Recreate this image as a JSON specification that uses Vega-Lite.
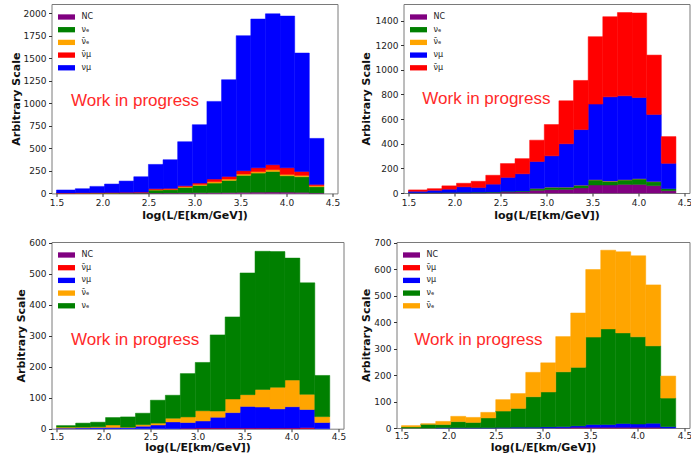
{
"$schema":"https://vega.github.io/schema/vega-lite/v6.json",
"background":"white",
"padding":{"left":9.5,"top":3,"right":0,"bottom":0},
"columns":2,
"align":"none",
"spacing":{"row":16,"column":13},
"datasets":{
"p1":[
{"lo":1.5,"hi":1.704,"t":"NC","n":1},{"lo":1.704,"hi":1.863,"t":"NC","n":1},{"lo":1.863,"hi":2.022,"t":"NC","n":2},{"lo":2.022,"hi":2.181,"t":"NC","n":2},{"lo":2.181,"hi":2.34,"t":"NC","n":3},{"lo":2.34,"hi":2.499,"t":"NC","n":3},{"lo":2.499,"hi":2.658,"t":"NC","n":4},{"lo":2.658,"hi":2.817,"t":"NC","n":5},{"lo":2.817,"hi":2.976,"t":"NC","n":6},{"lo":2.976,"hi":3.135,"t":"NC","n":7},{"lo":3.135,"hi":3.294,"t":"NC","n":8},{"lo":3.294,"hi":3.453,"t":"NC","n":10},{"lo":3.453,"hi":3.612,"t":"NC","n":12},{"lo":3.612,"hi":3.771,"t":"NC","n":14},{"lo":3.771,"hi":3.93,"t":"NC","n":15},{"lo":3.93,"hi":4.089,"t":"NC","n":14},{"lo":4.089,"hi":4.248,"t":"NC","n":12},{"lo":4.248,"hi":4.407,"t":"NC","n":5},
{"lo":1.5,"hi":1.704,"t":"\u03bd\u2091","n":1},{"lo":1.704,"hi":1.863,"t":"\u03bd\u2091","n":2},{"lo":1.863,"hi":2.022,"t":"\u03bd\u2091","n":3},{"lo":2.022,"hi":2.181,"t":"\u03bd\u2091","n":4},{"lo":2.181,"hi":2.34,"t":"\u03bd\u2091","n":5},{"lo":2.34,"hi":2.499,"t":"\u03bd\u2091","n":6},{"lo":2.499,"hi":2.658,"t":"\u03bd\u2091","n":33},{"lo":2.658,"hi":2.817,"t":"\u03bd\u2091","n":36},{"lo":2.817,"hi":2.976,"t":"\u03bd\u2091","n":61},{"lo":2.976,"hi":3.135,"t":"\u03bd\u2091","n":82},{"lo":3.135,"hi":3.294,"t":"\u03bd\u2091","n":107},{"lo":3.294,"hi":3.453,"t":"\u03bd\u2091","n":134},{"lo":3.453,"hi":3.612,"t":"\u03bd\u2091","n":188},{"lo":3.612,"hi":3.771,"t":"\u03bd\u2091","n":212},{"lo":3.771,"hi":3.93,"t":"\u03bd\u2091","n":229},{"lo":3.93,"hi":4.089,"t":"\u03bd\u2091","n":182},{"lo":4.089,"hi":4.248,"t":"\u03bd\u2091","n":173},{"lo":4.248,"hi":4.407,"t":"\u03bd\u2091","n":69},
{"lo":1.5,"hi":1.704,"t":"\u03bd\u0304\u2091","n":1},{"lo":1.704,"hi":1.863,"t":"\u03bd\u0304\u2091","n":1},{"lo":1.863,"hi":2.022,"t":"\u03bd\u0304\u2091","n":1},{"lo":2.022,"hi":2.181,"t":"\u03bd\u0304\u2091","n":1},{"lo":2.181,"hi":2.34,"t":"\u03bd\u0304\u2091","n":1},{"lo":2.34,"hi":2.499,"t":"\u03bd\u0304\u2091","n":1},{"lo":2.499,"hi":2.658,"t":"\u03bd\u0304\u2091","n":5},{"lo":2.658,"hi":2.817,"t":"\u03bd\u0304\u2091","n":4},{"lo":2.817,"hi":2.976,"t":"\u03bd\u0304\u2091","n":7},{"lo":2.976,"hi":3.135,"t":"\u03bd\u0304\u2091","n":11},{"lo":3.135,"hi":3.294,"t":"\u03bd\u0304\u2091","n":15},{"lo":3.294,"hi":3.453,"t":"\u03bd\u0304\u2091","n":15},{"lo":3.453,"hi":3.612,"t":"\u03bd\u0304\u2091","n":15},{"lo":3.612,"hi":3.771,"t":"\u03bd\u0304\u2091","n":15},{"lo":3.771,"hi":3.93,"t":"\u03bd\u0304\u2091","n":19},{"lo":3.93,"hi":4.089,"t":"\u03bd\u0304\u2091","n":15},{"lo":4.089,"hi":4.248,"t":"\u03bd\u0304\u2091","n":15},{"lo":4.248,"hi":4.407,"t":"\u03bd\u0304\u2091","n":11},
{"lo":1.5,"hi":1.704,"t":"\u03bd\u0304\u03bc","n":1},{"lo":1.704,"hi":1.863,"t":"\u03bd\u0304\u03bc","n":2},{"lo":1.863,"hi":2.022,"t":"\u03bd\u0304\u03bc","n":2},{"lo":2.022,"hi":2.181,"t":"\u03bd\u0304\u03bc","n":3},{"lo":2.181,"hi":2.34,"t":"\u03bd\u0304\u03bc","n":3},{"lo":2.34,"hi":2.499,"t":"\u03bd\u0304\u03bc","n":4},{"lo":2.499,"hi":2.658,"t":"\u03bd\u0304\u03bc","n":10},{"lo":2.658,"hi":2.817,"t":"\u03bd\u0304\u03bc","n":11},{"lo":2.817,"hi":2.976,"t":"\u03bd\u0304\u03bc","n":11},{"lo":2.976,"hi":3.135,"t":"\u03bd\u0304\u03bc","n":15},{"lo":3.135,"hi":3.294,"t":"\u03bd\u0304\u03bc","n":29},{"lo":3.294,"hi":3.453,"t":"\u03bd\u0304\u03bc","n":30},{"lo":3.453,"hi":3.612,"t":"\u03bd\u0304\u03bc","n":37},{"lo":3.612,"hi":3.771,"t":"\u03bd\u0304\u03bc","n":44},{"lo":3.771,"hi":3.93,"t":"\u03bd\u0304\u03bc","n":55},{"lo":3.93,"hi":4.089,"t":"\u03bd\u0304\u03bc","n":74},{"lo":4.089,"hi":4.248,"t":"\u03bd\u0304\u03bc","n":44},{"lo":4.248,"hi":4.407,"t":"\u03bd\u0304\u03bc","n":15},
{"lo":1.5,"hi":1.704,"t":"\u03bd\u03bc","n":34},{"lo":1.704,"hi":1.863,"t":"\u03bd\u03bc","n":46},{"lo":1.863,"hi":2.022,"t":"\u03bd\u03bc","n":70},{"lo":2.022,"hi":2.181,"t":"\u03bd\u03bc","n":94},{"lo":2.181,"hi":2.34,"t":"\u03bd\u03bc","n":125},{"lo":2.34,"hi":2.499,"t":"\u03bd\u03bc","n":171},{"lo":2.499,"hi":2.658,"t":"\u03bd\u03bc","n":270},{"lo":2.658,"hi":2.817,"t":"\u03bd\u03bc","n":318},{"lo":2.817,"hi":2.976,"t":"\u03bd\u03bc","n":489},{"lo":2.976,"hi":3.135,"t":"\u03bd\u03bc","n":648},{"lo":3.135,"hi":3.294,"t":"\u03bd\u03bc","n":863},{"lo":3.294,"hi":3.453,"t":"\u03bd\u03bc","n":1074},{"lo":3.453,"hi":3.612,"t":"\u03bd\u03bc","n":1500},{"lo":3.612,"hi":3.771,"t":"\u03bd\u03bc","n":1652},{"lo":3.771,"hi":3.93,"t":"\u03bd\u03bc","n":1677},{"lo":3.93,"hi":4.089,"t":"\u03bd\u03bc","n":1685},{"lo":4.089,"hi":4.248,"t":"\u03bd\u03bc","n":1315},{"lo":4.248,"hi":4.407,"t":"\u03bd\u03bc","n":511}
],
"p2":[
{"lo":1.5,"hi":1.704,"t":"NC","n":1},{"lo":1.704,"hi":1.863,"t":"NC","n":1},{"lo":1.863,"hi":2.022,"t":"NC","n":2},{"lo":2.022,"hi":2.181,"t":"NC","n":2},{"lo":2.181,"hi":2.34,"t":"NC","n":3},{"lo":2.34,"hi":2.499,"t":"NC","n":5},{"lo":2.499,"hi":2.658,"t":"NC","n":8},{"lo":2.658,"hi":2.817,"t":"NC","n":11},{"lo":2.817,"hi":2.976,"t":"NC","n":22},{"lo":2.976,"hi":3.135,"t":"NC","n":27},{"lo":3.135,"hi":3.294,"t":"NC","n":30},{"lo":3.294,"hi":3.453,"t":"NC","n":41},{"lo":3.453,"hi":3.612,"t":"NC","n":65},{"lo":3.612,"hi":3.771,"t":"NC","n":65},{"lo":3.771,"hi":3.93,"t":"NC","n":70},{"lo":3.93,"hi":4.089,"t":"NC","n":70},{"lo":4.089,"hi":4.248,"t":"NC","n":60},{"lo":4.248,"hi":4.407,"t":"NC","n":19},
{"lo":1.5,"hi":1.704,"t":"\u03bd\u2091","n":2},{"lo":1.704,"hi":1.863,"t":"\u03bd\u2091","n":3},{"lo":1.863,"hi":2.022,"t":"\u03bd\u2091","n":3},{"lo":2.022,"hi":2.181,"t":"\u03bd\u2091","n":4},{"lo":2.181,"hi":2.34,"t":"\u03bd\u2091","n":4},{"lo":2.34,"hi":2.499,"t":"\u03bd\u2091","n":3},{"lo":2.499,"hi":2.658,"t":"\u03bd\u2091","n":6},{"lo":2.658,"hi":2.817,"t":"\u03bd\u2091","n":5},{"lo":2.817,"hi":2.976,"t":"\u03bd\u2091","n":13},{"lo":2.976,"hi":3.135,"t":"\u03bd\u2091","n":19},{"lo":3.135,"hi":3.294,"t":"\u03bd\u2091","n":16},{"lo":3.294,"hi":3.453,"t":"\u03bd\u2091","n":21},{"lo":3.453,"hi":3.612,"t":"\u03bd\u2091","n":41},{"lo":3.612,"hi":3.771,"t":"\u03bd\u2091","n":30},{"lo":3.771,"hi":3.93,"t":"\u03bd\u2091","n":36},{"lo":3.93,"hi":4.089,"t":"\u03bd\u2091","n":44},{"lo":4.089,"hi":4.248,"t":"\u03bd\u2091","n":32},{"lo":4.248,"hi":4.407,"t":"\u03bd\u2091","n":16},
{"lo":2.817,"hi":2.976,"t":"\u03bd\u0304\u2091","n":1},{"lo":2.976,"hi":3.135,"t":"\u03bd\u0304\u2091","n":1},{"lo":3.135,"hi":3.294,"t":"\u03bd\u0304\u2091","n":1},{"lo":3.294,"hi":3.453,"t":"\u03bd\u0304\u2091","n":1},{"lo":3.453,"hi":3.612,"t":"\u03bd\u0304\u2091","n":2},{"lo":3.612,"hi":3.771,"t":"\u03bd\u0304\u2091","n":2},{"lo":3.771,"hi":3.93,"t":"\u03bd\u0304\u2091","n":2},{"lo":3.93,"hi":4.089,"t":"\u03bd\u0304\u2091","n":2},{"lo":4.089,"hi":4.248,"t":"\u03bd\u0304\u2091","n":1},
{"lo":1.5,"hi":1.704,"t":"\u03bd\u03bc","n":11},{"lo":1.704,"hi":1.863,"t":"\u03bd\u03bc","n":18},{"lo":1.863,"hi":2.022,"t":"\u03bd\u03bc","n":26},{"lo":2.022,"hi":2.181,"t":"\u03bd\u03bc","n":44},{"lo":2.181,"hi":2.34,"t":"\u03bd\u03bc","n":38},{"lo":2.34,"hi":2.499,"t":"\u03bd\u03bc","n":64},{"lo":2.499,"hi":2.658,"t":"\u03bd\u03bc","n":113},{"lo":2.658,"hi":2.817,"t":"\u03bd\u03bc","n":140},{"lo":2.817,"hi":2.976,"t":"\u03bd\u03bc","n":220},{"lo":2.976,"hi":3.135,"t":"\u03bd\u03bc","n":255},{"lo":3.135,"hi":3.294,"t":"\u03bd\u03bc","n":353},{"lo":3.294,"hi":3.453,"t":"\u03bd\u03bc","n":452},{"lo":3.453,"hi":3.612,"t":"\u03bd\u03bc","n":614},{"lo":3.612,"hi":3.771,"t":"\u03bd\u03bc","n":684},{"lo":3.771,"hi":3.93,"t":"\u03bd\u03bc","n":681},{"lo":3.93,"hi":4.089,"t":"\u03bd\u03bc","n":660},{"lo":4.089,"hi":4.248,"t":"\u03bd\u03bc","n":545},{"lo":4.248,"hi":4.407,"t":"\u03bd\u03bc","n":206},
{"lo":1.5,"hi":1.704,"t":"\u03bd\u0304\u03bc","n":11},{"lo":1.704,"hi":1.863,"t":"\u03bd\u0304\u03bc","n":13},{"lo":1.863,"hi":2.022,"t":"\u03bd\u0304\u03bc","n":27},{"lo":2.022,"hi":2.181,"t":"\u03bd\u0304\u03bc","n":29},{"lo":2.181,"hi":2.34,"t":"\u03bd\u0304\u03bc","n":50},{"lo":2.34,"hi":2.499,"t":"\u03bd\u0304\u03bc","n":72},{"lo":2.499,"hi":2.658,"t":"\u03bd\u0304\u03bc","n":112},{"lo":2.658,"hi":2.817,"t":"\u03bd\u0304\u03bc","n":123},{"lo":2.817,"hi":2.976,"t":"\u03bd\u0304\u03bc","n":173},{"lo":2.976,"hi":3.135,"t":"\u03bd\u0304\u03bc","n":254},{"lo":3.135,"hi":3.294,"t":"\u03bd\u0304\u03bc","n":349},{"lo":3.294,"hi":3.453,"t":"\u03bd\u0304\u03bc","n":399},{"lo":3.453,"hi":3.612,"t":"\u03bd\u0304\u03bc","n":548},{"lo":3.612,"hi":3.771,"t":"\u03bd\u0304\u03bc","n":651},{"lo":3.771,"hi":3.93,"t":"\u03bd\u0304\u03bc","n":676},{"lo":3.93,"hi":4.089,"t":"\u03bd\u0304\u03bc","n":686},{"lo":4.089,"hi":4.248,"t":"\u03bd\u0304\u03bc","n":482},{"lo":4.248,"hi":4.407,"t":"\u03bd\u0304\u03bc","n":217}
],
"p3":[
{"lo":2.976,"hi":3.135,"t":"NC","n":1},{"lo":3.135,"hi":3.294,"t":"NC","n":1},{"lo":3.294,"hi":3.453,"t":"NC","n":1},{"lo":3.453,"hi":3.612,"t":"NC","n":1},{"lo":3.612,"hi":3.771,"t":"NC","n":1},{"lo":3.771,"hi":3.93,"t":"NC","n":1},{"lo":3.93,"hi":4.089,"t":"NC","n":1},{"lo":4.089,"hi":4.248,"t":"NC","n":1},
{"lo":2.817,"hi":2.976,"t":"\u03bd\u0304\u03bc","n":1},{"lo":2.976,"hi":3.135,"t":"\u03bd\u0304\u03bc","n":1},{"lo":3.135,"hi":3.294,"t":"\u03bd\u0304\u03bc","n":1},{"lo":3.294,"hi":3.453,"t":"\u03bd\u0304\u03bc","n":1},{"lo":3.453,"hi":3.612,"t":"\u03bd\u0304\u03bc","n":1},{"lo":3.612,"hi":3.771,"t":"\u03bd\u0304\u03bc","n":1},{"lo":3.771,"hi":3.93,"t":"\u03bd\u0304\u03bc","n":1},{"lo":3.93,"hi":4.089,"t":"\u03bd\u0304\u03bc","n":1},{"lo":4.089,"hi":4.248,"t":"\u03bd\u0304\u03bc","n":2},
{"lo":1.5,"hi":1.704,"t":"\u03bd\u03bc","n":2},{"lo":1.704,"hi":1.863,"t":"\u03bd\u03bc","n":3},{"lo":1.863,"hi":2.022,"t":"\u03bd\u03bc","n":4},{"lo":2.022,"hi":2.181,"t":"\u03bd\u03bc","n":4},{"lo":2.181,"hi":2.34,"t":"\u03bd\u03bc","n":4},{"lo":2.34,"hi":2.499,"t":"\u03bd\u03bc","n":8},{"lo":2.499,"hi":2.658,"t":"\u03bd\u03bc","n":12},{"lo":2.658,"hi":2.817,"t":"\u03bd\u03bc","n":22},{"lo":2.817,"hi":2.976,"t":"\u03bd\u03bc","n":19},{"lo":2.976,"hi":3.135,"t":"\u03bd\u03bc","n":23},{"lo":3.135,"hi":3.294,"t":"\u03bd\u03bc","n":35},{"lo":3.294,"hi":3.453,"t":"\u03bd\u03bc","n":50},{"lo":3.453,"hi":3.612,"t":"\u03bd\u03bc","n":70},{"lo":3.612,"hi":3.771,"t":"\u03bd\u03bc","n":68},{"lo":3.771,"hi":3.93,"t":"\u03bd\u03bc","n":62},{"lo":3.93,"hi":4.089,"t":"\u03bd\u03bc","n":69},{"lo":4.089,"hi":4.248,"t":"\u03bd\u03bc","n":59},{"lo":4.248,"hi":4.407,"t":"\u03bd\u03bc","n":20},
{"lo":1.5,"hi":1.704,"t":"\u03bd\u0304\u2091","n":3},{"lo":1.704,"hi":1.863,"t":"\u03bd\u0304\u2091","n":2},{"lo":1.863,"hi":2.022,"t":"\u03bd\u0304\u2091","n":2},{"lo":2.022,"hi":2.181,"t":"\u03bd\u0304\u2091","n":8},{"lo":2.181,"hi":2.34,"t":"\u03bd\u0304\u2091","n":1},{"lo":2.34,"hi":2.499,"t":"\u03bd\u0304\u2091","n":5},{"lo":2.499,"hi":2.658,"t":"\u03bd\u0304\u2091","n":6},{"lo":2.658,"hi":2.817,"t":"\u03bd\u0304\u2091","n":12},{"lo":2.817,"hi":2.976,"t":"\u03bd\u0304\u2091","n":18},{"lo":2.976,"hi":3.135,"t":"\u03bd\u0304\u2091","n":33},{"lo":3.135,"hi":3.294,"t":"\u03bd\u0304\u2091","n":20},{"lo":3.294,"hi":3.453,"t":"\u03bd\u0304\u2091","n":44},{"lo":3.453,"hi":3.612,"t":"\u03bd\u0304\u2091","n":38},{"lo":3.612,"hi":3.771,"t":"\u03bd\u0304\u2091","n":57},{"lo":3.771,"hi":3.93,"t":"\u03bd\u0304\u2091","n":70},{"lo":3.93,"hi":4.089,"t":"\u03bd\u0304\u2091","n":86},{"lo":4.089,"hi":4.248,"t":"\u03bd\u0304\u2091","n":49},{"lo":4.248,"hi":4.407,"t":"\u03bd\u0304\u2091","n":19},
{"lo":1.5,"hi":1.704,"t":"\u03bd\u2091","n":5},{"lo":1.704,"hi":1.863,"t":"\u03bd\u2091","n":13},{"lo":1.863,"hi":2.022,"t":"\u03bd\u2091","n":15},{"lo":2.022,"hi":2.181,"t":"\u03bd\u2091","n":24},{"lo":2.181,"hi":2.34,"t":"\u03bd\u2091","n":33},{"lo":2.34,"hi":2.499,"t":"\u03bd\u2091","n":37},{"lo":2.499,"hi":2.658,"t":"\u03bd\u2091","n":74},{"lo":2.658,"hi":2.817,"t":"\u03bd\u2091","n":74},{"lo":2.817,"hi":2.976,"t":"\u03bd\u2091","n":140},{"lo":2.976,"hi":3.135,"t":"\u03bd\u2091","n":156},{"lo":3.135,"hi":3.294,"t":"\u03bd\u2091","n":246},{"lo":3.294,"hi":3.453,"t":"\u03bd\u2091","n":265},{"lo":3.453,"hi":3.612,"t":"\u03bd\u2091","n":393},{"lo":3.612,"hi":3.771,"t":"\u03bd\u2091","n":446},{"lo":3.771,"hi":3.93,"t":"\u03bd\u2091","n":438},{"lo":3.93,"hi":4.089,"t":"\u03bd\u2091","n":394},{"lo":4.089,"hi":4.248,"t":"\u03bd\u2091","n":360},{"lo":4.248,"hi":4.407,"t":"\u03bd\u2091","n":133}
],
"p4":[
{"lo":3.135,"hi":3.294,"t":"NC","n":1},{"lo":3.294,"hi":3.453,"t":"NC","n":1},{"lo":3.453,"hi":3.612,"t":"NC","n":1},{"lo":3.612,"hi":3.771,"t":"NC","n":1},{"lo":3.771,"hi":3.93,"t":"NC","n":1},{"lo":3.93,"hi":4.089,"t":"NC","n":1},{"lo":4.089,"hi":4.248,"t":"NC","n":1},
{"lo":3.294,"hi":3.453,"t":"\u03bd\u0304\u03bc","n":1},{"lo":3.453,"hi":3.612,"t":"\u03bd\u0304\u03bc","n":1},{"lo":3.612,"hi":3.771,"t":"\u03bd\u0304\u03bc","n":1},{"lo":3.771,"hi":3.93,"t":"\u03bd\u0304\u03bc","n":1},{"lo":3.93,"hi":4.089,"t":"\u03bd\u0304\u03bc","n":1},{"lo":4.089,"hi":4.248,"t":"\u03bd\u0304\u03bc","n":1},
{"lo":1.863,"hi":2.022,"t":"\u03bd\u03bc","n":1},{"lo":2.022,"hi":2.181,"t":"\u03bd\u03bc","n":1},{"lo":2.181,"hi":2.34,"t":"\u03bd\u03bc","n":1},{"lo":2.34,"hi":2.499,"t":"\u03bd\u03bc","n":1},{"lo":2.499,"hi":2.658,"t":"\u03bd\u03bc","n":2},{"lo":2.658,"hi":2.817,"t":"\u03bd\u03bc","n":3},{"lo":2.817,"hi":2.976,"t":"\u03bd\u03bc","n":3},{"lo":2.976,"hi":3.135,"t":"\u03bd\u03bc","n":4},{"lo":3.135,"hi":3.294,"t":"\u03bd\u03bc","n":4},{"lo":3.294,"hi":3.453,"t":"\u03bd\u03bc","n":6},{"lo":3.453,"hi":3.612,"t":"\u03bd\u03bc","n":11},{"lo":3.612,"hi":3.771,"t":"\u03bd\u03bc","n":11},{"lo":3.771,"hi":3.93,"t":"\u03bd\u03bc","n":15},{"lo":3.93,"hi":4.089,"t":"\u03bd\u03bc","n":13},{"lo":4.089,"hi":4.248,"t":"\u03bd\u03bc","n":16},{"lo":4.248,"hi":4.407,"t":"\u03bd\u03bc","n":5},
{"lo":1.5,"hi":1.704,"t":"\u03bd\u2091","n":4},{"lo":1.704,"hi":1.863,"t":"\u03bd\u2091","n":14},{"lo":1.863,"hi":2.022,"t":"\u03bd\u2091","n":12},{"lo":2.022,"hi":2.181,"t":"\u03bd\u2091","n":23},{"lo":2.181,"hi":2.34,"t":"\u03bd\u2091","n":20},{"lo":2.34,"hi":2.499,"t":"\u03bd\u2091","n":37},{"lo":2.499,"hi":2.658,"t":"\u03bd\u2091","n":62},{"lo":2.658,"hi":2.817,"t":"\u03bd\u2091","n":71},{"lo":2.817,"hi":2.976,"t":"\u03bd\u2091","n":115},{"lo":2.976,"hi":3.135,"t":"\u03bd\u2091","n":132},{"lo":3.135,"hi":3.294,"t":"\u03bd\u2091","n":207},{"lo":3.294,"hi":3.453,"t":"\u03bd\u2091","n":221},{"lo":3.453,"hi":3.612,"t":"\u03bd\u2091","n":330},{"lo":3.612,"hi":3.771,"t":"\u03bd\u2091","n":361},{"lo":3.771,"hi":3.93,"t":"\u03bd\u2091","n":342},{"lo":3.93,"hi":4.089,"t":"\u03bd\u2091","n":329},{"lo":4.089,"hi":4.248,"t":"\u03bd\u2091","n":292},{"lo":4.248,"hi":4.407,"t":"\u03bd\u2091","n":108},
{"lo":1.5,"hi":1.704,"t":"\u03bd\u0304\u2091","n":5},{"lo":1.704,"hi":1.863,"t":"\u03bd\u0304\u2091","n":2},{"lo":1.863,"hi":2.022,"t":"\u03bd\u0304\u2091","n":12},{"lo":2.022,"hi":2.181,"t":"\u03bd\u0304\u2091","n":20},{"lo":2.181,"hi":2.34,"t":"\u03bd\u0304\u2091","n":19},{"lo":2.34,"hi":2.499,"t":"\u03bd\u0304\u2091","n":21},{"lo":2.499,"hi":2.658,"t":"\u03bd\u0304\u2091","n":43},{"lo":2.658,"hi":2.817,"t":"\u03bd\u0304\u2091","n":56},{"lo":2.817,"hi":2.976,"t":"\u03bd\u0304\u2091","n":92},{"lo":2.976,"hi":3.135,"t":"\u03bd\u0304\u2091","n":110},{"lo":3.135,"hi":3.294,"t":"\u03bd\u0304\u2091","n":133},{"lo":3.294,"hi":3.453,"t":"\u03bd\u0304\u2091","n":205},{"lo":3.453,"hi":3.612,"t":"\u03bd\u0304\u2091","n":255},{"lo":3.612,"hi":3.771,"t":"\u03bd\u0304\u2091","n":297},{"lo":3.771,"hi":3.93,"t":"\u03bd\u0304\u2091","n":306},{"lo":3.93,"hi":4.089,"t":"\u03bd\u0304\u2091","n":306},{"lo":4.089,"hi":4.248,"t":"\u03bd\u0304\u2091","n":230},{"lo":4.248,"hi":4.407,"t":"\u03bd\u0304\u2091","n":83}
]
},
"concat":[
{"width":286,"height":189.4,
 "layer":[
 {"data":{"name":"p1"},
  "transform":[{"lookup":"t","from":{"data":{"values":[{"t":"NC","k":0},{"t":"\u03bd\u2091","k":1},{"t":"\u03bd\u0304\u2091","k":2},{"t":"\u03bd\u0304\u03bc","k":3},{"t":"\u03bd\u03bc","k":4}]},"key":"t","fields":["k"]}}],
  "mark":{"type":"bar","orient":"vertical","strokeWidth":0.5},
  "encoding":{
   "x":{"field":"lo","type":"quantitative","scale":{"domain":[1.5,4.5],"nice":false,"zero":false},"axis":{"title":"log(L/E[km/GeV])","values":[1.5,2,2.5,3,3.5,4,4.5],"format":".1f","labelOverlap":false}},
   "x2":{"field":"hi"},
   "y":{"field":"n","type":"quantitative","stack":"zero","scale":{"domain":[0,2104],"nice":false},"axis":{"title":"Arbitrary Scale","values":[0,250,500,750,1000,1250,1500,1750,2000],"format":"d","labelOverlap":false}},
   "order":{"field":"k","type":"quantitative","sort":"ascending"},
   "color":{"field":"t","type":"nominal","scale":{"domain":["NC","\u03bd\u2091","\u03bd\u0304\u2091","\u03bd\u0304\u03bc","\u03bd\u03bc"],"range":["#800080","#008000","#FFA500","#FF0000","#0000FF"]},"legend":{"title":null}},
   "stroke":{"field":"t","type":"nominal","scale":{"domain":["NC","\u03bd\u2091","\u03bd\u0304\u2091","\u03bd\u0304\u03bc","\u03bd\u03bc"],"range":["#800080","#008000","#FFA500","#FF0000","#0000FF"]},"legend":null}
  }},
 {"data":{"values":[{}]},"mark":{"type":"text","align":"left","baseline":"middle","font":"Liberation Sans","fontSize":17,"color":"#ff2a2a"},
  "encoding":{"x":{"datum":1.657,"type":"quantitative","axis":{"title":"log(L/E[km/GeV])","values":[1.5,2,2.5,3,3.5,4,4.5],"format":".1f","labelOverlap":false}},"y":{"datum":1030,"type":"quantitative","axis":{"title":"Arbitrary Scale","values":[0,250,500,750,1000,1250,1500,1750,2000],"format":"d","labelOverlap":false}},"text":{"value":"Work in progress"}}}
 ]},
{"width":286,"height":189,
 "layer":[
 {"data":{"name":"p2"},
  "transform":[{"lookup":"t","from":{"data":{"values":[{"t":"NC","k":0},{"t":"\u03bd\u2091","k":1},{"t":"\u03bd\u0304\u2091","k":2},{"t":"\u03bd\u03bc","k":3},{"t":"\u03bd\u0304\u03bc","k":4}]},"key":"t","fields":["k"]}}],
  "mark":{"type":"bar","orient":"vertical","strokeWidth":0.5},
  "encoding":{
   "x":{"field":"lo","type":"quantitative","scale":{"domain":[1.5,4.5],"nice":false,"zero":false},"axis":{"title":"log(L/E[km/GeV])","values":[1.5,2,2.5,3,3.5,4,4.5],"format":".1f","labelOverlap":false}},
   "x2":{"field":"hi"},
   "y":{"field":"n","type":"quantitative","stack":"zero","scale":{"domain":[0,1535],"nice":false},"axis":{"title":"Arbitrary Scale","values":[0,200,400,600,800,1000,1200,1400],"format":"d","titlePadding":3.5,"labelOverlap":false}},
   "order":{"field":"k","type":"quantitative","sort":"ascending"},
   "color":{"field":"t","type":"nominal","scale":{"domain":["NC","\u03bd\u2091","\u03bd\u0304\u2091","\u03bd\u03bc","\u03bd\u0304\u03bc"],"range":["#800080","#008000","#FFA500","#0000FF","#FF0000"]},"legend":{"title":null}},
   "stroke":{"field":"t","type":"nominal","scale":{"domain":["NC","\u03bd\u2091","\u03bd\u0304\u2091","\u03bd\u03bc","\u03bd\u0304\u03bc"],"range":["#800080","#008000","#FFA500","#0000FF","#FF0000"]},"legend":null}
  }},
 {"data":{"values":[{}]},"mark":{"type":"text","align":"left","baseline":"middle","font":"Liberation Sans","fontSize":17,"color":"#ff2a2a"},
  "encoding":{"x":{"datum":1.65,"type":"quantitative","axis":{"title":"log(L/E[km/GeV])","values":[1.5,2,2.5,3,3.5,4,4.5],"format":".1f","labelOverlap":false}},"y":{"datum":762,"type":"quantitative","axis":{"title":"Arbitrary Scale","values":[0,200,400,600,800,1000,1200,1400],"format":"d","titlePadding":3.5,"labelOverlap":false}},"text":{"value":"Work in progress"}}}
 ]},
{"width":292,"height":186.7,
 "layer":[
 {"data":{"name":"p3"},
  "transform":[{"lookup":"t","from":{"data":{"values":[{"t":"NC","k":0},{"t":"\u03bd\u0304\u03bc","k":1},{"t":"\u03bd\u03bc","k":2},{"t":"\u03bd\u0304\u2091","k":3},{"t":"\u03bd\u2091","k":4}]},"key":"t","fields":["k"]}}],
  "mark":{"type":"bar","orient":"vertical","strokeWidth":0.5},
  "encoding":{
   "x":{"field":"lo","type":"quantitative","scale":{"domain":[1.5,4.5],"nice":false,"zero":false},"axis":{"title":"log(L/E[km/GeV])","values":[1.5,2,2.5,3,3.5,4,4.5],"format":".1f","labelPadding":0.5,"titlePadding":0.5,"labelOverlap":false}},
   "x2":{"field":"hi"},
   "y":{"field":"n","type":"quantitative","stack":"zero","scale":{"domain":[0,603],"nice":false},"axis":{"title":"Arbitrary Scale","values":[0,100,200,300,400,500,600],"format":"d","labelOverlap":false}},
   "order":{"field":"k","type":"quantitative","sort":"ascending"},
   "color":{"field":"t","type":"nominal","scale":{"domain":["NC","\u03bd\u0304\u03bc","\u03bd\u03bc","\u03bd\u0304\u2091","\u03bd\u2091"],"range":["#800080","#FF0000","#0000FF","#FFA500","#008000"]},"legend":{"title":null}},
   "stroke":{"field":"t","type":"nominal","scale":{"domain":["NC","\u03bd\u0304\u03bc","\u03bd\u03bc","\u03bd\u0304\u2091","\u03bd\u2091"],"range":["#800080","#FF0000","#0000FF","#FFA500","#008000"]},"legend":null}
  }},
 {"data":{"values":[{}]},"mark":{"type":"text","align":"left","baseline":"middle","font":"Liberation Sans","fontSize":17,"color":"#ff2a2a"},
  "encoding":{"x":{"datum":1.654,"type":"quantitative","axis":{"title":"log(L/E[km/GeV])","values":[1.5,2,2.5,3,3.5,4,4.5],"format":".1f","labelPadding":0.5,"titlePadding":0.5,"labelOverlap":false}},"y":{"datum":285,"type":"quantitative","axis":{"title":"Arbitrary Scale","values":[0,100,200,300,400,500,600],"format":"d","labelOverlap":false}},"text":{"value":"Work in progress"}}}
 ]},
{"width":293,"height":186,
 "layer":[
 {"data":{"name":"p4"},
  "transform":[{"lookup":"t","from":{"data":{"values":[{"t":"NC","k":0},{"t":"\u03bd\u0304\u03bc","k":1},{"t":"\u03bd\u03bc","k":2},{"t":"\u03bd\u2091","k":3},{"t":"\u03bd\u0304\u2091","k":4}]},"key":"t","fields":["k"]}}],
  "mark":{"type":"bar","orient":"vertical","strokeWidth":0.5},
  "encoding":{
   "x":{"field":"lo","type":"quantitative","scale":{"domain":[1.5,4.5],"nice":false,"zero":false},"axis":{"title":"log(L/E[km/GeV])","values":[1.5,2,2.5,3,3.5,4,4.5],"format":".1f","labelPadding":0.5,"titlePadding":0.5,"labelOverlap":false}},
   "x2":{"field":"hi"},
   "y":{"field":"n","type":"quantitative","stack":"zero","scale":{"domain":[0,702],"nice":false},"axis":{"title":"Arbitrary Scale","values":[0,100,200,300,400,500,600,700],"format":"d","labelOverlap":false}},
   "order":{"field":"k","type":"quantitative","sort":"ascending"},
   "color":{"field":"t","type":"nominal","scale":{"domain":["NC","\u03bd\u0304\u03bc","\u03bd\u03bc","\u03bd\u2091","\u03bd\u0304\u2091"],"range":["#800080","#FF0000","#0000FF","#008000","#FFA500"]},"legend":{"title":null}},
   "stroke":{"field":"t","type":"nominal","scale":{"domain":["NC","\u03bd\u0304\u03bc","\u03bd\u03bc","\u03bd\u2091","\u03bd\u0304\u2091"],"range":["#800080","#FF0000","#0000FF","#008000","#FFA500"]},"legend":null}
  }},
 {"data":{"values":[{}]},"mark":{"type":"text","align":"left","baseline":"middle","font":"Liberation Sans","fontSize":17,"color":"#ff2a2a"},
  "encoding":{"x":{"datum":1.636,"type":"quantitative","axis":{"title":"log(L/E[km/GeV])","values":[1.5,2,2.5,3,3.5,4,4.5],"format":".1f","labelPadding":0.5,"titlePadding":0.5,"labelOverlap":false}},"y":{"datum":334,"type":"quantitative","axis":{"title":"Arbitrary Scale","values":[0,100,200,300,400,500,600,700],"format":"d","labelOverlap":false}},"text":{"value":"Work in progress"}}}
 ]}
],
"resolve":{"scale":{"color":"independent","stroke":"independent","x":"independent","y":"independent"},"legend":{"color":"independent"}},
"config":{
 "font":"DejaVu Sans",
 "view":{"stroke":"#7a7a7a","strokeWidth":1},
 "axis":{"grid":false,"domain":false,"ticks":true,"tickColor":"#333333","tickSize":3,"labelFontSize":9,"labelFont":"DejaVu Sans","labelColor":"#222222","labelPadding":2.5,"titleFont":"DejaVu Sans","titleFontSize":11,"titleFontWeight":"bold","titleColor":"#111111","titlePadding":2},
 "axisX":{"labelFlush":false,"labelOverlap":false},
 "axisY":{"labelOverlap":false},
 "legend":{"orient":"top-left","offset":8,"padding":0,"labelFontSize":8,"labelFont":"DejaVu Sans","labelColor":"#222222","symbolType":"M-1.3,-0.53H2.1V0.53H-1.3Z","symbolSize":100,"symbolStrokeWidth":0,"symbolOpacity":1,"rowPadding":3.7,"labelOffset":12}
}
}
